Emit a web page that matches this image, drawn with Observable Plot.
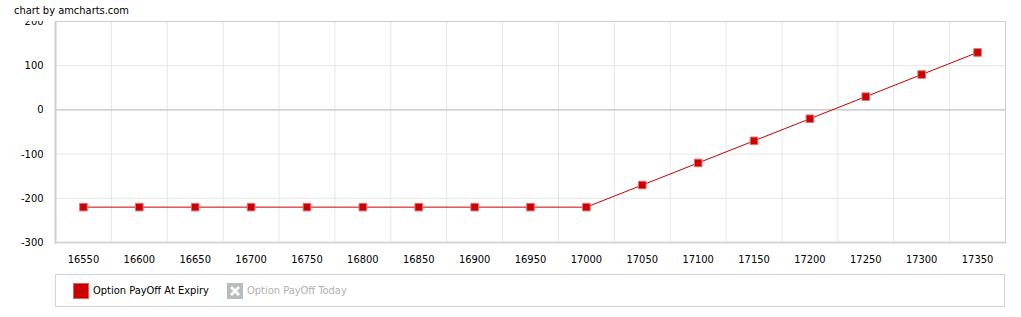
<!DOCTYPE html>
<html>
<head>
<meta charset="utf-8">
<script src="https://cdn.jsdelivr.net/npm/d3@7"></script>
<script src="https://cdn.jsdelivr.net/npm/@observablehq/plot@0.6"></script>
<style>
  html, body { margin: 0; padding: 0; background: #fff; }
  #wrap { position: relative; width: 1021px; height: 317px; font-family: "DejaVu Sans Condensed", "Liberation Sans", sans-serif; font-size: 11px; }
  #title { position: absolute; left: 0; top: 0; height: 20.5px; padding: 0 8px 0 14px; background: #fff; color: #000; z-index: 2; white-space: nowrap; }
  #title span { position: relative; top: 4px; }
  #legend { position: absolute; left: 55px; top: 274px; width: 948px; height: 31px; border: 1px solid #d4d4d4; }
  .item { position: absolute; top: 8px; height: 16px; line-height: 16px; }
  .sw { position: absolute; left: 0; top: 0; width: 16px; height: 16px; }
  .lbl { position: absolute; left: 20px; top: 0; white-space: nowrap; }
</style>
</head>
<body>
<div id="wrap">
  <div id="chart"></div>
  <div id="title"><span>chart by amcharts.com</span></div>
  <div id="legend">
    <div class="item" style="left:17px">
      <svg class="sw" width="16" height="16"><rect x="0.5" y="0.5" width="15" height="15" fill="#cc0000" stroke="#e06060"/></svg>
      <span class="lbl" style="color:#000">Option PayOff At Expiry</span>
    </div>
    <div class="item" style="left:171px">
      <svg class="sw" width="16" height="16"><rect x="0" y="0" width="16" height="16" fill="#b9bcbc"/><path d="M4,4 L12,12 M12,4 L4,12" stroke="#fff" stroke-width="2.6"/></svg>
      <span class="lbl" style="color:#b0b0b0">Option PayOff Today</span>
    </div>
  </div>
</div>
<script>
const strikes = [16550,16600,16650,16700,16750,16800,16850,16900,16950,17000,17050,17100,17150,17200,17250,17300,17350];
const payoffAtExpiry = [-220,-220,-220,-220,-220,-220,-220,-220,-220,-220,-170,-120,-70,-20,30,80,130];
const yTicks = [-300,-200,-100,0,100,200];
const seriesName = "Option PayOff At Expiry";

const data = strikes.map((s, i) => ({strike: s, value: payoffAtExpiry[i], series: seriesName}));
const step = strikes[1] - strikes[0];
const boundaries = strikes.slice(1).map(s => s - step / 2);

const chart = Plot.plot({
  width: 1021,
  height: 270,
  marginLeft: 55,
  marginRight: 16,
  marginTop: 21,
  marginBottom: 28,
  style: {fontFamily: '"DejaVu Sans Condensed", "Liberation Sans", sans-serif', fontSize: "11px", color: "#000", background: "#fff"},
  x: {type: "linear", label: null, domain: [strikes[0] - step / 2, strikes[strikes.length - 1] + step / 2]},
  y: {label: null, domain: [yTicks[0], yTicks[yTicks.length - 1]]},
  marks: [
    Plot.ruleX(boundaries, {stroke: "#e6e6e6", strokeWidth: 1}),
    Plot.gridY(yTicks, {stroke: "#e6e6e6", strokeOpacity: 1}),
    Plot.ruleY([0], {stroke: "#bdbdbd", strokeWidth: 1}),
    Plot.frame({stroke: "#cfcfcf"}),
    Plot.frame({anchor: "left", stroke: "#cfcfcf", strokeWidth: 2}),
    Plot.frame({anchor: "bottom", stroke: "#d6d6d6", strokeWidth: 2}),
    Plot.axisY(yTicks, {tickSize: 0, tickPadding: 12, tickFormat: d => String(d), fontSize: 11, fill: "#000", label: null}),
    Plot.axisX(strikes, {tickSize: 0, tickPadding: 13, tickFormat: d => String(d), fontSize: 11, fill: "#000", label: null}),
    Plot.line(data, {x: "strike", y: "value", stroke: "#cc0000", strokeWidth: 1}),
    Plot.dot(data, {x: "strike", y: "value", symbol: "square", r: 4.3, fill: "#cc0000", stroke: "#e57373", strokeWidth: 1})
  ]
});
document.getElementById("chart").appendChild(chart);
</script>
</body>
</html>
